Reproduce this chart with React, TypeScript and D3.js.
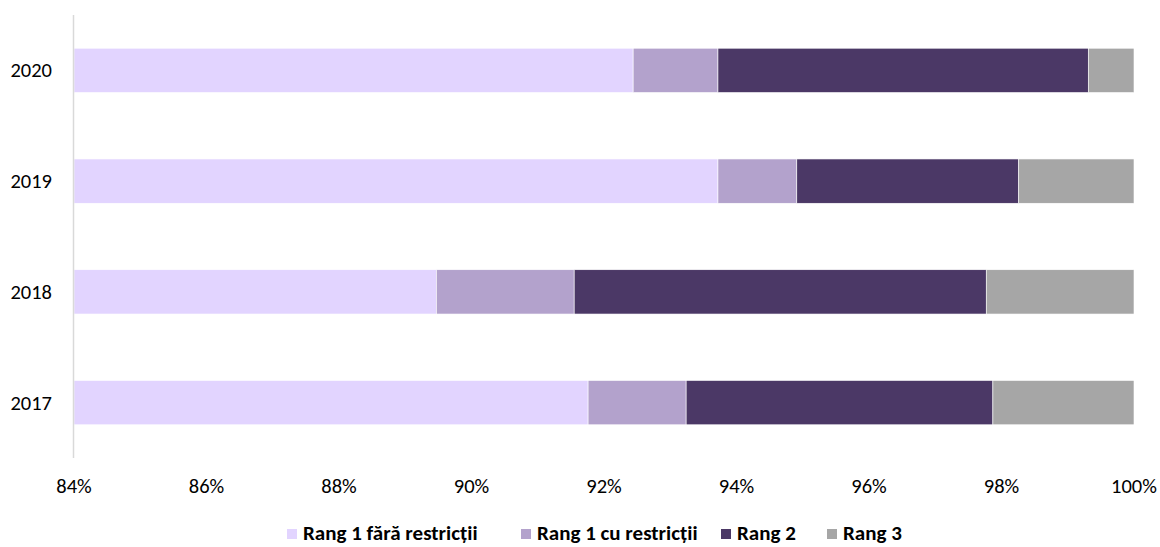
import React from "react";
import * as d3 from "d3";

const years = ["2020", "2019", "2018", "2017"];
const seriesNames = ["Rang 1 fără restricții", "Rang 1 cu restricții", "Rang 2", "Rang 3"];
const rang1Fara = [92.44, 93.72, 89.47, 91.76];
const rang1Cu = [1.28, 1.19, 2.08, 1.48];
const rang2 = [5.59, 3.35, 6.22, 4.63];
const rang3 = [0.69, 1.74, 2.23, 2.13];
const colors = ["#E2D4FF", "#B3A2CC", "#4B3866", "#A6A6A6"];
const xTicks = [84, 86, 88, 90, 92, 94, 96, 98, 100];

const W = 1160;
const H = 547;
const FONT = "Carlito, Calibri, Lato, 'Open Sans', sans-serif";

export default function App() {
  const x = d3.scaleLinear().domain([84, 100]).range([74, 1134]);
  const y = d3.scaleBand().domain(years).range([15, 458]).paddingInner(0.6).paddingOuter(0.3);
  const rows = years.map((yr, i) => ({ yr, vals: [rang1Fara[i], rang1Cu[i], rang2[i], rang3[i]] }));
  const legendX = [287, 521, 721, 827];
  return (
    <svg width={W} height={H} style={{ position: "absolute", left: 0, top: 0 }} fontFamily={FONT}>
      <rect x={0} y={0} width={W} height={H} fill="#fff" />
      {rows.map((r) => {
        let acc = 0;
        return (
          <g key={r.yr}>
            {r.vals.map((v, k) => {
              const s = acc;
              acc += v;
              const x0 = Math.max(x(s), x(84));
              const x1 = Math.min(x(acc), x(100));
              return (
                <rect key={k} x={x0} y={y(r.yr)} width={Math.max(0, x1 - x0)} height={y.bandwidth()}
                  fill={colors[k]} stroke="#fff" strokeWidth={0.6} />
              );
            })}
            <text x={52} y={(y(r.yr) as number) + y.bandwidth() / 2 + 7} textAnchor="end"
              fontSize={20.5} fill="#000">{r.yr}</text>
          </g>
        );
      })}
      <line x1={73.5} x2={73.5} y1={15} y2={458} stroke="#D9D9D9" strokeWidth={1.5} />
      {xTicks.map((t) => (
        <text key={t} x={x(t)} y={493} textAnchor="middle" fontSize={20.5} fill="#000">
          {t}%
        </text>
      ))}
      {seriesNames.map((n, k) => (
        <g key={n}>
          <rect x={legendX[k]} y={529} width={10} height={10} fill={colors[k]} />
          <text x={legendX[k] + 16} y={540} fontSize={21} fontWeight="bold" fill="#000">
            {n}
          </text>
        </g>
      ))}
    </svg>
  );
}
